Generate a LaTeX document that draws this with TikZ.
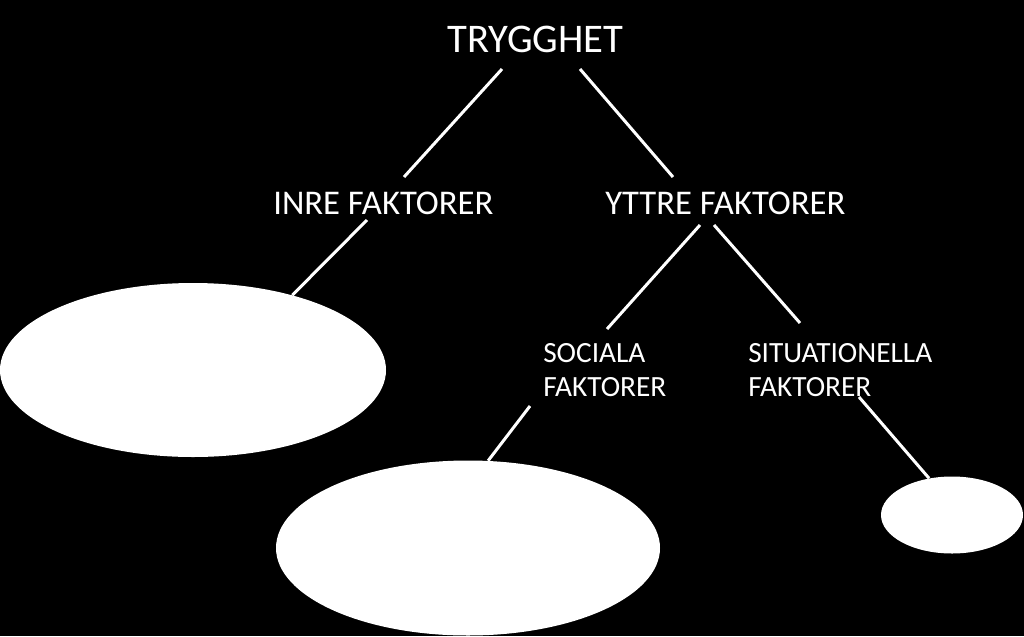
\documentclass[tikz,border=0pt]{standalone}
\usepackage{fontspec}
\setmainfont{Carlito}
\usetikzlibrary{shapes.geometric,calc}
\tikzset{
  toptext/.style={text=white, inner sep=0pt, anchor=base west, font=\fontsize{30.5}{36}\selectfont},
  midtext/.style={toptext, font=\fontsize{26}{31}\selectfont},
  subtext/.style={toptext, align=left, font=\fontsize{22}{25.5}\selectfont},
  blob/.style={ellipse, fill=white, draw=none, inner sep=0pt},
  link/.style={draw=white, line width=2.25pt}
}
\begin{document}
\begin{tikzpicture}[x=0.75pt,y=-0.75pt]
  % background
  \fill[black] (0,0) rectangle (1024,636);
  \useasboundingbox (0,0) rectangle (1024,636);

  % labels
  \node[toptext] (trygghet) at (447,52) {TRYGGHET};
  \node[midtext] (inre) at (273,214) {INRE FAKTORER};
  \node[midtext] (yttre) at (605,214) {YTTRE FAKTORER};
  \node[subtext] (sociala) at (543,396) {SOCIALA\\FAKTORER};
  \node[subtext] (situation) at (748,396) {SITUATIONELLA\\FAKTORER};

  % empty ellipses
  \node[blob, minimum width=289.5pt, minimum height=130.5pt] (inreblob) at (193,370) {};
  \node[blob, minimum width=288pt, minimum height=131.25pt] (socblob) at (468,548) {};
  \node[blob, minimum width=106.5pt, minimum height=57.75pt] (sitblob) at (952,515) {};

  % connectors
  \draw[link] ($(trygghet.base west)+(55,17)$) -- ($(inre.base west)+(131,-37)$);
  \draw[link] ($(trygghet.base west)+(133,17)$) -- ($(yttre.base west)+(68,-37)$);
  \draw[link] ($(inre.base west)+(94,6)$) -- (inreblob.37);
  \draw[link] ($(yttre.base west)+(95,11)$) -- ($(sociala.base west)+(64,-67)$);
  \draw[link] ($(yttre.base west)+(109,11)$) -- ($(situation.base west)+(52,-73)$);
  \draw[link] ($(sociala.base west)+(-13,10)$) -- (socblob.77);
  \draw[link] ($(situation.base west)+(111,1)$) -- (sitblob.122);
\end{tikzpicture}
\end{document}
